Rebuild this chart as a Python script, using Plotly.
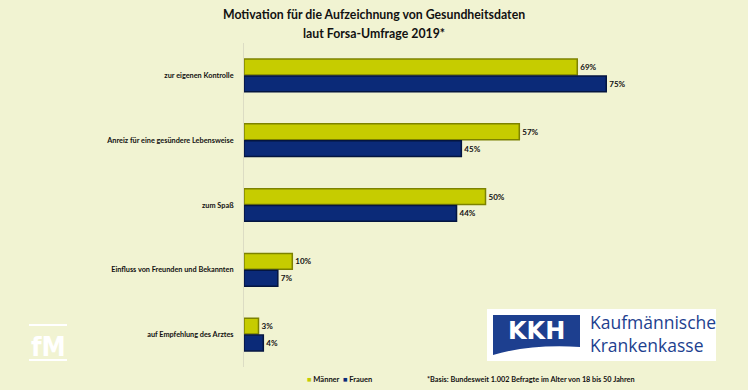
import plotly.graph_objects as go

categories = ["zur eigenen Kontrolle", "Anreiz für eine gesündere Lebensweise", "zum Spaß",
              "Einfluss von Freunden und Bekannten", "auf Empfehlung des Arztes"]
maenner = [69, 57, 50, 10, 3]
frauen = [75, 45, 44, 7, 4]
series_names = ["Männer", "Frauen"]

BG = "#f1f3d2"
C_M = "#c6cc00"
C_M_LINE = "#7d8200"
C_F = "#0b2a78"
C_F_LINE = "#041540"
FONT = "Lato, 'Open Sans', sans-serif"

fig = go.Figure()
for name, vals, col, lcol in [(series_names[0], maenner, C_M, C_M_LINE),
                              (series_names[1], frauen, C_F, C_F_LINE)]:
    fig.add_trace(go.Bar(
        y=categories, x=vals, name=name, orientation="h",
        marker=dict(color=col, line=dict(color=lcol, width=1.5)),
        text=[f"{v}%" for v in vals], textposition="outside",
        textfont=dict(family=FONT, size=8, color="#111111", weight="bold"),
        cliponaxis=False, showlegend=False,
    ))

fig.update_layout(
    width=748, height=390,
    paper_bgcolor=BG, plot_bgcolor=BG,
    margin=dict(l=244, r=21, t=43, b=23),
    barmode="group", bargap=0.48, bargroupgap=0.06,
    font=dict(family=FONT, color="#111111"),
    xaxis=dict(range=[0, 100], visible=False, showgrid=False, zeroline=False),
    yaxis=dict(autorange="reversed", showgrid=False, zeroline=False,
               showline=True, linecolor="#dcdcc4", linewidth=1,
               ticks="", ticklabelstandoff=8,
               tickfont=dict(family=FONT, size=7.3, color="#111111", weight="bold")),
)


def px_x(px):
    return (px - 244) / 483


def px_y(py):
    return 1 - (py - 43) / 324


# Title
fig.add_annotation(text="<b>Motivation für die Aufzeichnung von Gesundheitsdaten</b>",
                   xref="paper", yref="paper", x=px_x(374), y=px_y(14),
                   xanchor="center", yanchor="middle", showarrow=False,
                   font=dict(size=12.3, family=FONT, color="#111111"))
fig.add_annotation(text="<b>laut Forsa-Umfrage 2019*</b>",
                   xref="paper", yref="paper", x=px_x(374), y=px_y(33),
                   xanchor="center", yanchor="middle", showarrow=False,
                   font=dict(size=12.3, family=FONT, color="#111111"))

# Legend (custom)
fig.add_annotation(text=f"<span style='color:{C_M}'>■</span> Männer  <span style='color:{C_F}'>■</span> Frauen",
                   xref="paper", yref="paper", x=px_x(305), y=px_y(379), xanchor="left", yanchor="middle",
                   showarrow=False, font=dict(size=7.5, family=FONT, color="#111111", weight="bold"))

# Footnote
fig.add_annotation(text="*Basis: Bundesweit 1.002 Befragte im Alter von 18 bis 50 Jahren",
                   xref="paper", yref="paper", x=px_x(425), y=px_y(379), xanchor="left", yanchor="middle",
                   showarrow=False, font=dict(size=7.3, family=FONT, color="#111111", weight="bold"))

# KKH logo
fig.add_shape(type="rect", xref="paper", yref="paper",
              x0=px_x(487), x1=px_x(716), y0=px_y(361), y1=px_y(309),
              fillcolor="white", line=dict(width=0), layer="above")
fig.add_shape(type="path", xref="paper", yref="paper",
              path=(f"M {px_x(493)},{px_y(315)} L {px_x(580)},{px_y(315)} L {px_x(580)},{px_y(347)} "
                    f"Q {px_x(530)},{px_y(344)} {px_x(493)},{px_y(355)} Z"),
              fillcolor="#1d3f8f", line=dict(width=0), layer="above")
fig.add_annotation(text="<b>KKH</b>", xref="paper", yref="paper", x=px_x(536), y=px_y(331),
                   xanchor="center", yanchor="middle", showarrow=False,
                   font=dict(size=24, family="'DejaVu Sans', sans-serif", color="white"))
fig.add_annotation(text="Kaufmännische<br>Krankenkasse", xref="paper", yref="paper",
                   x=px_x(588), y=px_y(333), xanchor="left", yanchor="middle", align="left",
                   showarrow=False,
                   font=dict(size=17.5, family="'Open Sans', sans-serif", color="#1d3f8f"))

# fM logo
fig.add_shape(type="line", xref="paper", yref="paper", x0=px_x(29), x1=px_x(67), y0=px_y(325), y1=px_y(325),
              line=dict(color="white", width=2))
fig.add_shape(type="line", xref="paper", yref="paper", x0=px_x(29), x1=px_x(67), y0=px_y(360), y1=px_y(360),
              line=dict(color="white", width=2))
fig.add_annotation(text="<b>fM</b>", xref="paper", yref="paper", x=px_x(48), y=px_y(346),
                   xanchor="center", yanchor="middle", showarrow=False,
                   font=dict(size=27, family="'DejaVu Sans Condensed', 'DejaVu Sans', sans-serif",
                             color="white"))

fig.write_html("out.html", config={"displayModeBar": False},
               post_script="document.body.style.margin='0';document.body.style.overflow='hidden';")
